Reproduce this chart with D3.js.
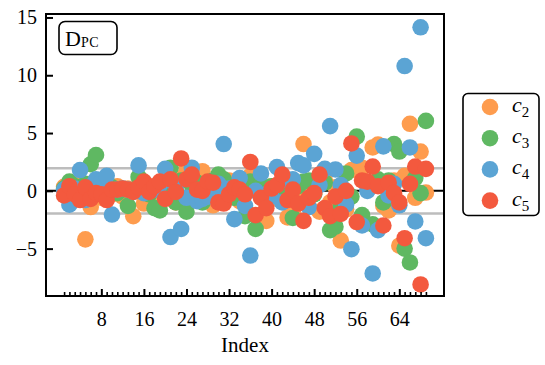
<!DOCTYPE html>
<html><head><meta charset="utf-8">
<script src="https://cdn.jsdelivr.net/npm/d3@7"></script>
<style>body{margin:0;background:#fff}svg{display:block}</style>
</head><body>
<svg id="c" width="545" height="365"></svg>
<script>
const seriesNames = ["c2","c3","c4","c5"];
const seriesColors = ["#fe9c4e","#5fb862","#5ba4d4","#f3593e"];
const c2 = [0.35,-0.3,0.5,-0.5,-4.2,-1.4,0.3,-0.6,0.1,-0.3,0.4,-0.5,0.2,-2.2,0.1,-1.1,0.4,-0.8,0.6,0.9,-0.4,-1.0,1.1,2.0,-0.6,0.4,1.7,-0.2,-1.25,0.5,-0.7,0.9,0.2,-0.9,0.6,1.3,1.2,-0.4,-2.6,0.4,-0.7,0.6,-2.3,-1.9,-0.2,4.05,0.2,0.8,-1.8,0.9,-1.0,0.3,-4.3,-1.6,1.8,1.9,2.0,0.5,3.75,4.0,-1.3,-1.7,0.9,-4.75,1.3,5.8,-0.6,3.4,-0.15];
const c3 = [0.2,0.8,0.4,0.3,0.6,2.3,3.1,0.2,-0.5,0.3,-0.2,0.1,-1.3,0.0,1.2,0.1,-0.3,-1.5,-1.7,0.6,2.0,-1.0,0.9,-1.8,0.5,0.7,-1.0,0.3,0.9,1.4,1.0,0.5,-0.6,0.3,-2.2,0.8,-3.3,0.6,-0.8,0.4,-0.4,0.8,0.3,-2.35,0.4,0.8,0.9,-0.3,1.1,0.7,-3.4,-3.1,-1.3,1.5,-0.5,4.7,-2.1,0.6,-2.9,1.0,-1.0,0.9,4.05,3.4,-5.0,-6.2,1.1,-0.2,6.05];
const c4 = [0.1,-1.2,0.2,1.8,-0.8,0.4,1.0,0.8,1.3,-2.05,0.1,0.2,0.1,-0.1,2.2,-0.2,0.3,0.1,0.5,1.9,-4.0,0.3,-3.3,-0.6,2.0,-0.9,-0.7,-0.5,-0.3,0.6,4.05,0.2,-2.45,1.1,-1.3,-5.6,0.0,1.5,-0.3,-0.5,2.05,-1.0,0.9,1.0,2.4,2.2,-1.4,3.2,0.5,1.9,5.6,1.85,0.5,-1.2,-5.05,3.05,-3.0,0.0,-7.15,-3.4,3.85,-0.4,0.6,-1.25,10.8,3.75,-2.65,14.15,-4.1];
const c5 = [-0.4,0.4,-0.3,-0.8,0.3,-0.7,-0.2,-0.3,-0.8,0.1,0.1,0.2,0.1,-0.1,0.3,0.8,-0.1,0.4,0.8,-0.7,1.0,-0.1,2.8,1.0,1.4,0.1,0.0,0.8,0.7,-1.0,-1.1,-0.3,0.3,0.1,-0.3,2.5,-2.1,-0.6,-1.5,0.2,0.5,1.4,-0.8,0.1,-1.1,-2.6,-0.6,-0.2,1.4,-1.5,-2.2,-0.5,-2.0,0.0,4.1,-2.7,0.9,0.8,2.1,0.4,-3.0,0.7,-0.2,-1.0,-4.1,0.6,2.1,-8.1,1.9];
const seriesValues = [c2,c3,c4,c5];
const yTicks = [-5,0,5,10,15];
const xMajorTicks = [8,16,24,32,40,48,56,64];
const refLines = [1.96,-1.96];

const svg = d3.select("#c");
const L=46,R=444,T=14,B=296;
const x = d3.scaleLinear().domain([-2.4,72.4]).range([L,R]);
const y = d3.scaleLinear().domain([-9.1,15.3]).range([B,T]);
const serif = "'Liberation Serif','DejaVu Serif',serif";

// reference lines
svg.selectAll("line.ref").data(refLines).enter().append("line")
  .attr("x1",L).attr("x2",R).attr("y1",d=>y(d)).attr("y2",d=>y(d))
  .attr("stroke","#bdbdbd").attr("stroke-width",2.5);
svg.append("line").attr("x1",L).attr("x2",R).attr("y1",y(0)).attr("y2",y(0))
  .attr("stroke","#000").attr("stroke-width",2);

// points
seriesValues.forEach((vals,si)=>{
  svg.append("g").selectAll("circle").data(vals).enter().append("circle")
    .attr("cx",(d,i)=>x(i+1)).attr("cy",d=>y(d)).attr("r",8.3)
    .attr("fill",seriesColors[si]);
});

// axes
const yAxis = d3.axisLeft(y).tickValues(yTicks).tickSize(-7).tickPadding(9)
  .tickFormat(d=>d<0?"\u2212"+Math.abs(d):d);
const gy = svg.append("g").attr("transform",`translate(${L},0)`).call(yAxis);
gy.select(".domain").remove();
gy.selectAll(".tick line").attr("stroke","#000").attr("stroke-width",2);
gy.selectAll("text").attr("font-family",serif).attr("font-size",20).attr("fill","#000");

const idx = d3.range(1,70);
const xMinor = d3.axisBottom(x).tickValues(idx.filter(d=>d%8!==0)).tickSize(-4).tickFormat("");
const gxm = svg.append("g").attr("transform",`translate(0,${B})`).call(xMinor);
gxm.select(".domain").remove();
gxm.selectAll(".tick line").attr("stroke","#000").attr("stroke-width",1.6);
const xAxis = d3.axisBottom(x).tickValues(xMajorTicks).tickSize(-7).tickPadding(16);
const gx = svg.append("g").attr("transform",`translate(0,${B})`).call(xAxis);
gx.select(".domain").remove();
gx.selectAll(".tick line").attr("stroke","#000").attr("stroke-width",2);
gx.selectAll("text").attr("font-family",serif).attr("font-size",20).attr("fill","#000");

svg.append("text").attr("x",(L+R)/2).attr("y",352).attr("text-anchor","middle")
  .attr("font-family",serif).attr("font-size",21).text("Index");

// frame
svg.append("rect").attr("x",L).attr("y",T).attr("width",R-L).attr("height",B-T)
  .attr("fill","none").attr("stroke","#000").attr("stroke-width",2);

// DPC label
svg.append("rect").attr("x",59).attr("y",21.5).attr("width",58).attr("height",33).attr("rx",6)
  .attr("fill","#fff").attr("stroke","#000").attr("stroke-width",1.6);
const tl = svg.append("text").attr("x",65).attr("y",46).attr("font-family",serif).attr("font-size",22);
tl.append("tspan").text("D");
tl.append("tspan").attr("font-size",14).attr("dy",1).attr("letter-spacing",0.5).text("PC");

// legend
svg.append("rect").attr("x",463).attr("y",93.5).attr("width",76).attr("height",122).attr("rx",5)
  .attr("fill","#fff").attr("stroke","#000").attr("stroke-width",1.6);
seriesNames.forEach((n,i)=>{
  const cy = 107 + i*31.2;
  svg.append("circle").attr("cx",490).attr("cy",cy).attr("r",8.3).attr("fill",seriesColors[i]);
  const t = svg.append("text").attr("x",512).attr("y",cy+5).attr("font-family",serif).attr("font-size",22);
  t.append("tspan").attr("font-style","italic").text(n[0]);
  t.append("tspan").attr("font-size",15).attr("dy",5).text(n.slice(1));
});
</script>
</body></html>
